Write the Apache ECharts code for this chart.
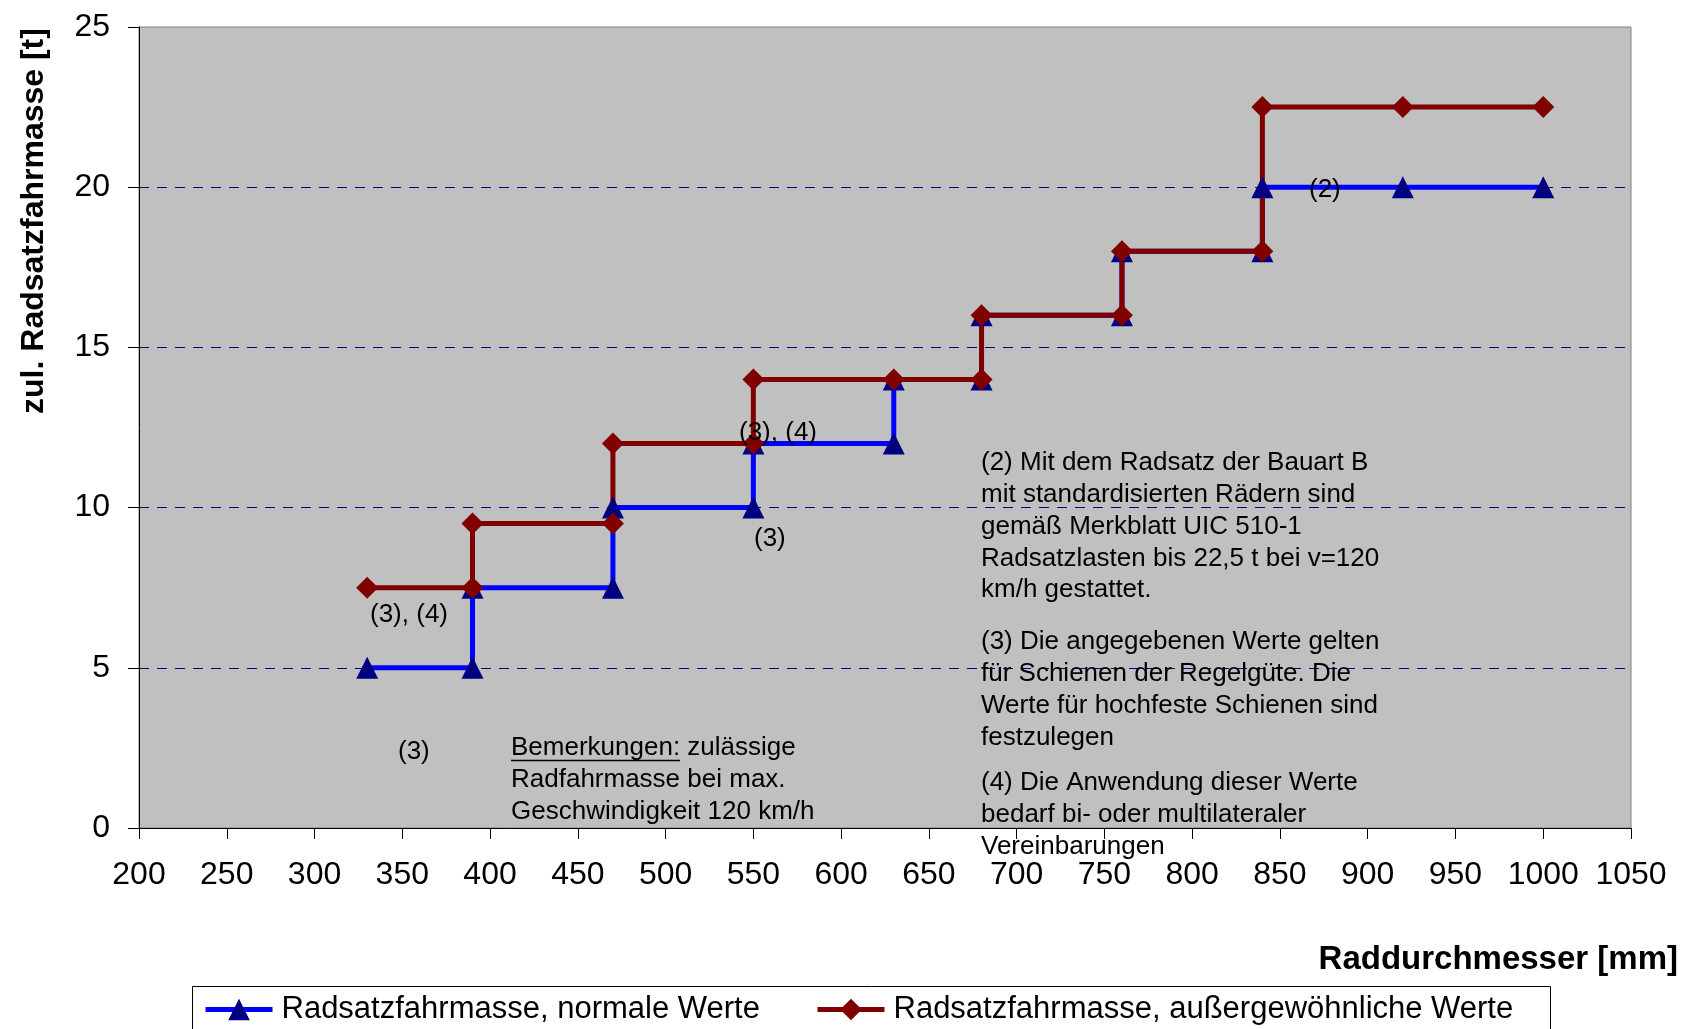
<!DOCTYPE html>
<html>
<head>
<meta charset="utf-8">
<script src="https://cdn.jsdelivr.net/npm/echarts@6/dist/echarts.min.js"></script>
<style>
  html, body { margin: 0; padding: 0; background: #ffffff; }
  #chart { width: 1688px; height: 1029px; }
</style>
</head>
<body>
<div id="chart"></div>
<script>
// Wheel diameter [mm] vs. permitted axle mass [t]; step curves with explicit riser points
const normalName = 'Radsatzfahrmasse, normale Werte';
const normalX = [330, 390, 390, 470, 470, 550, 550, 630, 630, 680, 680, 760, 760, 840, 840, 920, 1000];
const normalY = [5, 5, 7.5, 7.5, 10, 10, 12, 12, 14, 14, 16, 16, 18, 18, 20, 20, 20];

const exceptName = 'Radsatzfahrmasse, außergewöhnliche Werte';
const exceptX = [330, 390, 390, 470, 470, 550, 550, 630, 680, 680, 760, 760, 840, 840, 920, 1000];
const exceptY = [7.5, 7.5, 9.5, 9.5, 12, 12, 14, 14, 14, 16, 16, 18, 18, 22.5, 22.5, 22.5];

// Axis ranges
const xMin = 200, xMax = 1050, xStep = 50;
const yMin = 0, yMax = 25, yStep = 5;

const xTitle = 'Raddurchmesser [mm]';
const yTitle = 'zul. Radsatzfahrmasse [t]';

// Footnote markers and remark texts
const markerTexts = ['(3), (4)', '(3)', '(3), (4)', '(3)', '(2)'];
const remarkHead = 'Bemerkungen:';
const remarkLines = [' zulässige', 'Radfahrmasse bei max.', 'Geschwindigkeit 120 km/h'];
const noteLines = [
  ['(2) Mit dem Radsatz der Bauart B', 'mit standardisierten Rädern sind', 'gemäß Merkblatt UIC 510-1',
   'Radsatzlasten bis 22,5 t bei v=120', 'km/h gestattet.'],
  ['(3) Die angegebenen Werte gelten', 'für Schienen der Regelgüte. Die', 'Werte für hochfeste Schienen sind',
   'festzulegen'],
  ['(4) Die Anwendung dieser Werte', 'bedarf bi- oder multilateraler', 'Vereinbarungen']
];

// ---- layout / styling ----
const FONT = "'Liberation Sans', Arial, Helvetica, sans-serif";
const NOTE_SIZE = 26;
const LINE_H = 31.8;

const zip = (xs, ys) => xs.map((x, i) => [x, ys[i]]);

const chart = echarts.init(document.getElementById('chart'), null, { renderer: 'canvas' });

function textEl(text, x, y, opts) {
  return Object.assign({
    type: 'text', x: x, y: y, z: 10,
    style: Object.assign({
      text: text, fill: '#000000', font: NOTE_SIZE + 'px ' + FONT,
      align: 'left', verticalAlign: 'middle'
    }, (opts && opts.style) || {})
  }, opts && opts.el ? opts.el : {});
}

// pixel anchors of the footnote markers (left edge, vertical centre)
const markerPos = [[370, 615], [398, 752], [739, 433], [754, 539], [1309, 190]];

const graphics = [];
// legend frame
graphics.push({
  type: 'rect', z: 0,
  shape: { x: 192.5, y: 986.5, width: 1358, height: 70 },
  style: { fill: '#ffffff', stroke: '#000000', lineWidth: 1 }
});
// axis titles
graphics.push(textEl(xTitle, 1678, 960, { style: { font: 'bold 33px ' + FONT, align: 'right' } }));
graphics.push(textEl(yTitle, 34, 221, {
  style: { font: 'bold 32px ' + FONT, align: 'center' },
  el: { rotation: Math.PI / 2 }
}));
// footnote markers
markerTexts.forEach((t, i) => graphics.push(textEl(t, markerPos[i][0], markerPos[i][1])));

// remark block with underlined heading
const measureCtx = document.createElement('canvas').getContext('2d');
measureCtx.font = NOTE_SIZE + 'px ' + FONT;
const headW = measureCtx.measureText(remarkHead).width;
const remarkLeft = 511, remarkTop = 748;
graphics.push(textEl(remarkHead, remarkLeft, remarkTop));
graphics.push({
  type: 'line', z: 10,
  shape: { x1: remarkLeft, y1: remarkTop + 12.5, x2: remarkLeft + headW, y2: remarkTop + 12.5 },
  style: { stroke: '#000000', lineWidth: 1.5 }
});
graphics.push(textEl(remarkLines[0], remarkLeft + headW, remarkTop));
graphics.push(textEl(remarkLines[1], remarkLeft, remarkTop + LINE_H));
graphics.push(textEl(remarkLines[2], remarkLeft, remarkTop + 2 * LINE_H));

// note paragraphs
const noteLeft = 981;
const noteStarts = [463, 642, 783];
noteLines.forEach((para, p) => {
  para.forEach((line, j) => graphics.push(textEl(line, noteLeft, noteStarts[p] + j * LINE_H)));
});

const legendCommon = {
  orient: 'horizontal', top: 994, padding: 0,
  itemWidth: 67, itemHeight: 27, itemGap: 10,
  selectedMode: false,
  lineStyle: { width: 5 },
  textStyle: { fontFamily: FONT, fontSize: 31, color: '#000000', padding: [0, 0, 0, 4] }
};

chart.setOption({
  animation: false,
  backgroundColor: '#ffffff',
  grid: {
    left: 139, right: 57, top: 27, bottom: 201,
    show: true, backgroundColor: '#C0C0C0', borderColor: '#808080', borderWidth: 1,
    containLabel: false
  },
  legend: [
    Object.assign({ left: 203, data: [normalName] }, legendCommon),
    Object.assign({ left: 815, data: [exceptName] }, legendCommon)
  ],
  xAxis: {
    type: 'value', min: xMin, max: xMax, interval: xStep,
    axisLine: { show: true, onZero: false, lineStyle: { color: '#000000', width: 1 } },
    axisTick: { show: true, inside: false, length: 11, lineStyle: { color: '#000000' } },
    axisLabel: {
      fontFamily: FONT, fontSize: 32, color: '#000000', margin: 31,
      formatter: v => String(v)
    },
    splitLine: { show: false }
  },
  yAxis: {
    type: 'value', min: yMin, max: yMax, interval: yStep,
    axisLine: { show: true, lineStyle: { color: '#000000', width: 1 } },
    axisTick: { show: true, inside: false, length: 11, lineStyle: { color: '#000000' } },
    axisLabel: { fontFamily: FONT, fontSize: 32, color: '#000000', margin: 29, formatter: v => String(v) },
    splitLine: {
      show: true, showMinLine: false, showMaxLine: false,
      lineStyle: { color: '#000080', width: 1, type: [10, 8] }
    }
  },
  series: [
    {
      name: normalName, type: 'line', data: zip(normalX, normalY),
      symbol: 'triangle', symbolSize: 22, showAllSymbol: true,
      lineStyle: { color: '#0000FF', width: 5 },
      itemStyle: { color: '#000080', borderWidth: 0 },
      emphasis: { disabled: true }
    },
    {
      name: exceptName, type: 'line', data: zip(exceptX, exceptY),
      symbol: 'diamond', symbolSize: 22, showAllSymbol: true,
      lineStyle: { color: '#800000', width: 5 },
      itemStyle: { color: '#800000', borderWidth: 0 },
      emphasis: { disabled: true }
    }
  ],
  graphic: graphics
});
</script>
</body>
</html>
